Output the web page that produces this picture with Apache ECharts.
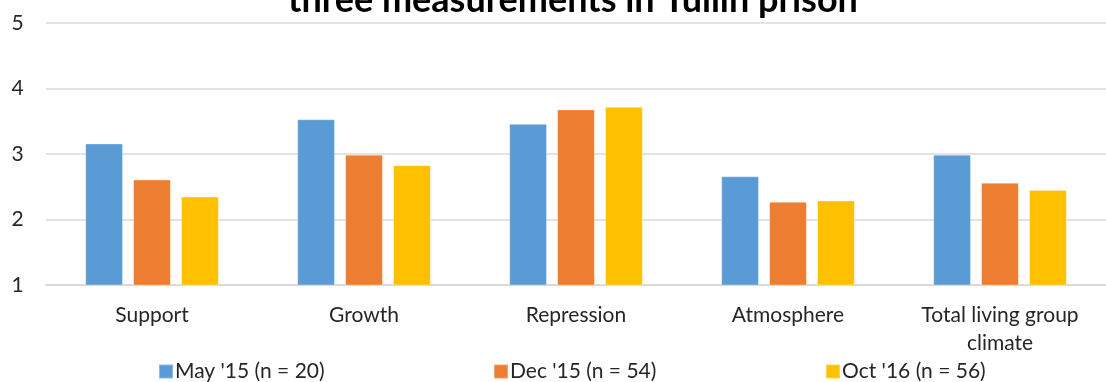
<!DOCTYPE html>
<html>
<head>
<meta charset="utf-8">
<script src="https://cdn.jsdelivr.net/npm/echarts@6/dist/echarts.min.js"></script>
<style>
  html, body { margin: 0; padding: 0; background: #ffffff; }
  #chart { width: 1106px; height: 382px; }
</style>
</head>
<body>
<div id="chart"></div>
<script>
// Living group climate scales, three measurement waves
const categories = ['Support', 'Growth', 'Repression', 'Atmosphere', 'Total living group\nclimate'];
const seriesNames = ["May '15 (n = 20)", "Dec '15 (n = 54)", "Oct '16 (n = 56)"];
const may15 = [3.16, 3.53, 3.46, 2.66, 2.99];
const dec15 = [2.61, 2.99, 3.68, 2.27, 2.56];
const oct16 = [2.35, 2.83, 3.72, 2.29, 2.45];
const yTicks = [1, 2, 3, 4, 5];

const colors = ['#5b9bd5', '#ed7d31', '#ffc000'];
const font = 'Lato, "Open Sans", sans-serif';

const chart = echarts.init(document.getElementById('chart'));

function legendAt(name, left) {
  return {
    data: [name],
    left: left,
    top: 361,
    padding: 0,
    icon: 'rect',
    itemWidth: 14,
    itemHeight: 14,
    itemGap: 0,
    textStyle: { fontFamily: font, fontSize: 21, color: '#262626', padding: [0, 0, 0, -3] }
  };
}

const makeSeries = (name, data) => ({
  name: name,
  type: 'bar',
  data: data,
  barGap: '27%',
  barCategoryGap: '37%',
  itemStyle: { borderColor: 'rgba(255,255,255,0.3)', borderWidth: 1 }
});

chart.setOption({
  animation: false,
  color: colors,
  title: {
    text: 'three measurements in Tullin prison',
    left: 568,
    textAlign: 'center',
    top: -23,
    textStyle: { fontFamily: font, fontSize: 36, fontWeight: 'bold', color: '#000000' }
  },
  legend: [
    legendAt(seriesNames[0], 158),
    legendAt(seriesNames[1], 493),
    legendAt(seriesNames[2], 825)
  ],
  grid: { left: 46, right: -11, top: 23, bottom: 97, containLabel: false },
  xAxis: {
    type: 'category',
    data: categories,
    axisLine: { lineStyle: { color: '#d9d9d9', width: 2 } },
    axisTick: { show: false },
    axisLabel: {
      fontFamily: font, fontSize: 21, color: '#262626', margin: 16, lineHeight: 28, interval: 0
    }
  },
  yAxis: {
    type: 'value',
    min: yTicks[0],
    max: yTicks[yTicks.length - 1],
    interval: 1,
    axisLine: { show: false },
    axisTick: { show: false },
    splitLine: { lineStyle: { color: '#d9d9d9', width: 1.5 } },
    axisLabel: { fontFamily: font, fontSize: 21, color: '#262626', margin: 28.5, align: 'center' }
  },
  series: [
    makeSeries(seriesNames[0], may15),
    makeSeries(seriesNames[1], dec15),
    makeSeries(seriesNames[2], oct16)
  ]
});
</script>
</body>
</html>
